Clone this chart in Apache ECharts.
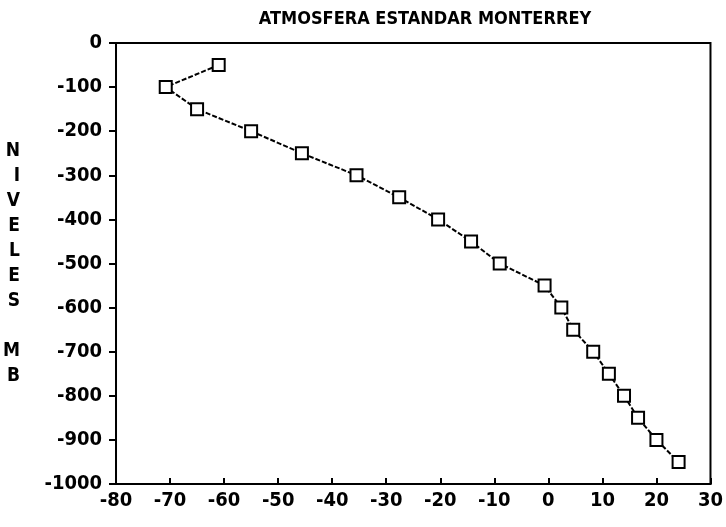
<!DOCTYPE html>
<html>
<head>
<meta charset="utf-8">
<script src="https://cdn.jsdelivr.net/npm/echarts@6/dist/echarts.min.js"></script>
<style>
  html, body { margin: 0; padding: 0; background: #fff; }
  #chart { width: 726px; height: 527px; }
</style>
</head>
<body>
<div id="chart"></div>
<script>
// temperatura (C) vs nivel (mb, negativo)
var temperaturas = [-61, -70.8, -65, -55, -45.6, -35.5, -27.6, -20.4, -14.3, -9, -0.7, 2.4, 4.6, 8.3, 11.2, 14, 16.6, 20, 24.1];
var niveles = [-50, -100, -150, -200, -250, -300, -350, -400, -450, -500, -550, -600, -650, -700, -750, -800, -850, -900, -950];

var titulo = 'ATMOSFERA ESTANDAR MONTERREY';
var ejeY = ['N', 'I', 'V', 'E', 'L', 'E', 'S', '', 'M', 'B'];

var font = '"DejaVu Sans Condensed", "DejaVu Sans", sans-serif';

var puntos = temperaturas.map(function (t, i) { return [t, niveles[i]]; });

var chart = echarts.init(document.getElementById('chart'));

var option = {
  backgroundColor: '#fff',
  animation: false,
  title: {
    text: titulo,
    left: 420,
    textAlign: 'center',
    top: 5,
    textStyle: { fontFamily: font, fontSize: 18, fontWeight: 'bold', color: '#000' }
  },
  grid: {
    left: 115,
    right: 13,
    top: 43,
    bottom: 43,
    show: true,
    borderColor: '#000',
    borderWidth: 2
  },
  xAxis: {
    type: 'value',
    min: -80,
    max: 30,
    interval: 10,
    splitLine: { show: false },
    axisLine: { onZero: false, lineStyle: { color: '#000', width: 2 } },
    axisTick: { inside: true, length: 6, lineStyle: { color: '#000', width: 2 } },
    axisLabel: { color: '#000', fontFamily: font, fontSize: 20, fontWeight: 'bold', margin: 7 }
  },
  yAxis: {
    type: 'value',
    min: -1000,
    max: 0,
    interval: 100,
    splitLine: { show: false },
    axisLine: { onZero: false, lineStyle: { color: '#000', width: 2 } },
    axisTick: { length: 7, lineStyle: { color: '#000', width: 2 } },
    axisLabel: {
      color: '#000', fontFamily: font, fontSize: 20, fontWeight: 'bold', margin: 14,
      formatter: function (v) { return String(v); }
    },
    name: ejeY.join('\n'),
    nameLocation: 'middle',
    nameRotate: 0,
    nameGap: 96,
    nameTextStyle: { color: '#000', fontFamily: font, fontSize: 19, fontWeight: 'bold', lineHeight: 25 }
  },
  series: [{
    type: 'line',
    data: puntos,
    symbol: 'rect',
    symbolSize: 12,
    showAllSymbol: true,
    lineStyle: { color: '#000', width: 2, type: [5, 2] },
    itemStyle: { color: '#fff', borderColor: '#000', borderWidth: 2 }
  }]
};

chart.setOption(option);
</script>
</body>
</html>
